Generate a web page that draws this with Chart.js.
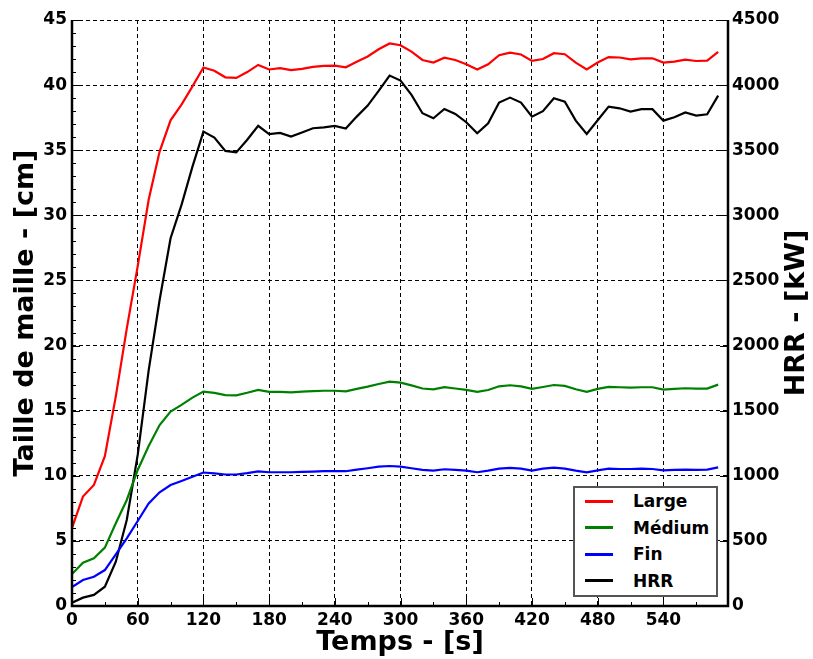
<!DOCTYPE html>
<html>
<head>
<meta charset="utf-8">
<script src="https://cdn.jsdelivr.net/npm/chart.js@4/dist/chart.umd.min.js"></script>
<style>
    body { margin: 0; background: #fff; }
    .wrap { position: relative; width: 813px; height: 659px; }
    .legend {
        position: absolute; left: 573px; top: 486px; width: 141px; height: 107px;
        border: 2px solid #555; background: #fff;
        font: bold 17px 'DejaVu Sans', sans-serif; color: #000;
    }
    .legend .row { height: 26.5px; display: flex; align-items: center; }
    .legend .swatch { display: inline-block; width: 28px; height: 3px; margin-left: 10px; margin-right: 20px; }
</style>
</head>
<body>
<div class="wrap">
    <canvas id="chart" width="813" height="659"></canvas>
    <div class="legend" id="legend"></div>
</div>
<script>
// Time steps (s)
const times = [0, 10, 20, 30, 40, 50, 60, 70, 80, 90, 100, 110, 120, 130, 140, 150, 160, 170, 180, 190,
    200, 210, 220, 230, 240, 250, 260, 270, 280, 290, 300, 310, 320, 330, 340, 350, 360, 370, 380, 390,
    400, 410, 420, 430, 440, 450, 460, 470, 480, 490, 500, 510, 520, 530, 540, 550, 560, 570, 580, 590];

// Mesh size (cm)
const large = [6.0, 8.4, 9.3, 11.5, 16.1, 21.3, 26.1, 31.2, 34.9, 37.3, 38.5, 39.9, 41.35, 41.1, 40.6, 40.55, 41.0, 41.55, 41.2, 41.3,
    41.15, 41.25, 41.4, 41.47, 41.5, 41.37, 41.8, 42.2, 42.75, 43.2, 43.06, 42.57, 41.93, 41.73, 42.1, 41.93, 41.6, 41.2, 41.6, 42.3,
    42.5, 42.35, 41.86, 42.0, 42.45, 42.37, 41.73, 41.2, 41.73, 42.15, 42.12, 41.98, 42.06, 42.06, 41.73, 41.8, 41.96, 41.85, 41.88, 42.55];
const medium = [2.45, 3.33, 3.66, 4.48, 6.35, 8.14, 10.45, 12.29, 13.9, 14.93, 15.44, 16.0, 16.46, 16.37, 16.2, 16.18, 16.38, 16.6, 16.44, 16.44,
    16.4, 16.46, 16.5, 16.53, 16.53, 16.48, 16.67, 16.85, 17.05, 17.23, 17.15, 16.94, 16.7, 16.64, 16.8, 16.7, 16.59, 16.44, 16.59, 16.87,
    16.95, 16.87, 16.67, 16.82, 16.97, 16.9, 16.64, 16.44, 16.67, 16.82, 16.8, 16.77, 16.8, 16.8, 16.62, 16.67, 16.72, 16.7, 16.7, 17.0];
const fin = [1.45, 2.0, 2.25, 2.76, 3.97, 5.2, 6.53, 7.88, 8.73, 9.29, 9.6, 9.93, 10.25, 10.18, 10.1, 10.1, 10.2, 10.33, 10.27, 10.27,
    10.27, 10.3, 10.32, 10.35, 10.35, 10.35, 10.47, 10.58, 10.7, 10.75, 10.7, 10.58, 10.45, 10.4, 10.5, 10.45, 10.4, 10.27, 10.4, 10.55,
    10.6, 10.55, 10.4, 10.55, 10.63, 10.55, 10.4, 10.27, 10.42, 10.55, 10.52, 10.52, 10.55, 10.52, 10.42, 10.45, 10.47, 10.45, 10.47, 10.65];

// Heat release rate (kW)
const hrr = [25, 64, 85, 148, 340, 660, 1160, 1810, 2350, 2824, 3080, 3374, 3643, 3597, 3495, 3483, 3580, 3687, 3623, 3633,
    3605, 3636, 3669, 3676, 3687, 3666, 3758, 3843, 3955, 4073, 4035, 3925, 3784, 3745, 3817, 3779, 3715, 3630, 3707, 3866,
    3904, 3866, 3758, 3800, 3899, 3873, 3727, 3625, 3730, 3835, 3822, 3797, 3815, 3815, 3727, 3753, 3790, 3766, 3776, 3919];

// Tick labels
const xTicks = [0, 60, 120, 180, 240, 300, 360, 420, 480, 540];
const seriesNames = ['Large', 'Médium', 'Fin', 'HRR'];
const seriesColors = ['#ff0000', '#008000', '#0000ff', '#000000'];
const rightTitle = 'HRR - [kW]';

const FONT = "'DejaVu Sans', sans-serif";

function toPoints(values) {
    return times.map((t, i) => ({ x: t, y: values[i] }));
}

// Spines, inward tick marks and the right-hand title (read bottom to top)
const axisDecor = {
    id: 'axisDecor',
    afterDraw(chart) {
        const { ctx, chartArea: a, scales } = chart;
        const xs = scales.x, yl = scales.y, yr = scales.y2;
        ctx.save();
        ctx.strokeStyle = '#000';
        ctx.lineWidth = 1;
        ctx.beginPath();
        for (let v = yl.min; v <= yl.max; v += 1) {
            const y = Math.round(yl.getPixelForValue(v)) + 0.5;
            const len = v % 5 === 0 ? 8 : 4;
            ctx.moveTo(a.left, y);
            ctx.lineTo(a.left + len, y);
        }
        for (let v = yr.min; v <= yr.max; v += 500) {
            const y = Math.round(yr.getPixelForValue(v)) + 0.5;
            ctx.moveTo(a.right, y);
            ctx.lineTo(a.right - 8, y);
        }
        for (let t = 0; t <= xs.max; t += 30) {
            const x = Math.round(xs.getPixelForValue(t)) + 0.5;
            const len = t % 60 === 0 ? 8 : 4;
            ctx.moveTo(x, a.bottom);
            ctx.lineTo(x, a.bottom - len);
        }
        ctx.stroke();

        ctx.lineWidth = 2.5;
        ctx.beginPath();
        ctx.moveTo(a.left, a.top);
        ctx.lineTo(a.left, a.bottom);
        ctx.lineTo(a.right, a.bottom);
        ctx.lineTo(a.right, a.top);
        ctx.stroke();

        ctx.translate(797, (a.top + a.bottom) / 2);
        ctx.rotate(-Math.PI / 2);
        ctx.fillStyle = '#000';
        ctx.font = 'bold 27px ' + FONT;
        ctx.textAlign = 'center';
        ctx.textBaseline = 'middle';
        ctx.fillText(rightTitle, 0, 0);
        ctx.restore();
    }
};

document.addEventListener('DOMContentLoaded', () => {
    const ctx = document.getElementById('chart').getContext('2d');
    const allSeries = [large, medium, fin, hrr];

    new Chart(ctx, {
        type: 'line',
        data: {
            datasets: allSeries.map((vals, i) => ({
                label: seriesNames[i],
                data: toPoints(vals),
                borderColor: seriesColors[i],
                backgroundColor: seriesColors[i],
                borderWidth: 2.2,
                pointRadius: 0,
                tension: 0,
                yAxisID: i === 3 ? 'y2' : 'y'
            }))
        },
        options: {
            responsive: false,
            animation: false,
            layout: { padding: { top: 20, left: 0, right: 0, bottom: 0 } },
            plugins: {
                legend: { display: false },
                tooltip: { enabled: false }
            },
            scales: {
                x: {
                    type: 'linear',
                    min: 0,
                    max: 599,
                    afterFit: (scale) => { scale.height = 53; },
                    afterBuildTicks: (scale) => { scale.ticks = xTicks.map(v => ({ value: v })); },
                    border: { display: false, dash: [4, 3] },
                    grid: {
                        color: '#000',
                        lineWidth: 1,
                        drawTicks: false
                    },
                    ticks: {
                        padding: 4,
                        color: '#000',
                        maxRotation: 0,
                        autoSkip: false,
                        callback: (v) => String(v),
                        font: { family: FONT, size: 17, weight: 'bold' }
                    },
                    title: {
                        display: true,
                        text: 'Temps - [s]',
                        color: '#000',
                        padding: { top: 0, bottom: 0 },
                        font: { family: FONT, size: 27, weight: 'bold' }
                    }
                },
                y: {
                    position: 'left',
                    min: 0,
                    max: 45,
                    afterFit: (scale) => { scale.width = 72; },
                    border: { display: false, dash: [4, 3] },
                    grid: {
                        color: '#000',
                        lineWidth: 1,
                        drawTicks: false
                    },
                    ticks: {
                        stepSize: 5,
                        padding: 5,
                        color: '#000',
                        callback: (v) => String(v),
                        font: { family: FONT, size: 17, weight: 'bold' }
                    },
                    title: {
                        display: true,
                        text: 'Taille de maille - [cm]',
                        color: '#000',
                        padding: { top: 10, bottom: 0 },
                        font: { family: FONT, size: 27, weight: 'bold' }
                    }
                },
                y2: {
                    position: 'right',
                    min: 0,
                    max: 4500,
                    afterFit: (scale) => { scale.width = 85; },
                    border: { display: false },
                    grid: { display: false, drawTicks: false },
                    ticks: {
                        stepSize: 500,
                        padding: 4,
                        color: '#000',
                        callback: (v) => String(v),
                        font: { family: FONT, size: 17, weight: 'bold' }
                    },
                    title: { display: false }
                }
            }
        },
        plugins: [axisDecor]
    });

    // Legend box inside the plot area
    const legend = document.getElementById('legend');
    seriesNames.forEach((name, i) => {
        const row = document.createElement('div');
        row.className = 'row';
        row.innerHTML = `<span class="swatch" style="background:${seriesColors[i]}"></span><span>${name}</span>`;
        legend.appendChild(row);
    });
});
</script>
</body>
</html>
